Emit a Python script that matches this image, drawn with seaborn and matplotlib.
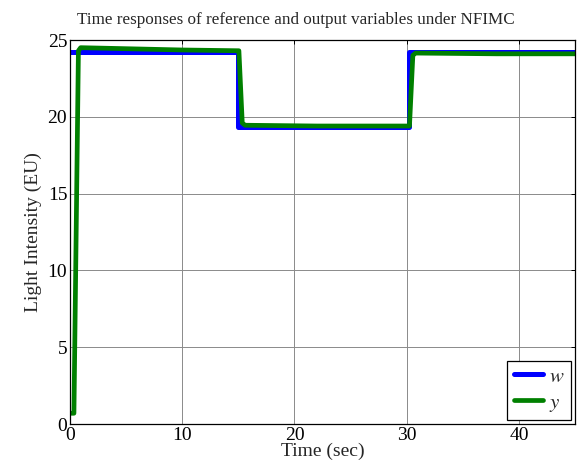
import numpy as np
import pandas as pd
import matplotlib
matplotlib.use("Agg")
import matplotlib.pyplot as plt
import seaborn as sns

# reference w (step setpoint)
w_time = [0.0, 15.0, 15.0, 30.2, 30.2, 45.0]
w_val = [24.2, 24.2, 19.35, 19.35, 24.2, 24.2]

# output y
y_time = [0.0, 0.35, 0.75, 0.95, 4.0, 10.0, 15.05, 15.35, 15.6, 22.0, 30.25, 30.55, 30.8, 38.0, 45.0]
y_val = [0.7, 0.7, 24.3, 24.5, 24.45, 24.35, 24.3, 19.6, 19.45, 19.4, 19.4, 24.0, 24.15, 24.1, 24.1]

x_ticks = [0, 10, 20, 30, 40]
y_ticks = [0, 5, 10, 15, 20, 25]

sns.set_theme(style="white")
plt.rcParams['font.family'] = ['Liberation Serif', 'DejaVu Serif']
plt.rcParams['mathtext.fontset'] = 'stix'

fig = plt.figure(figsize=(5.79, 4.73), dpi=100)
ax = fig.add_axes([70/579, 1-424/473, 505/579, 384/473])

sns.lineplot(x=w_time, y=w_val, ax=ax, color='#0000ff', lw=3.6,
             sort=False, estimator=None, label='$w$')
sns.lineplot(x=y_time, y=y_val, ax=ax, color='#008000', lw=3.4,
             sort=False, estimator=None, label='$y$')

ax.set_xlim(0, 45)
ax.set_ylim(0, 25)
ax.set_xticks(x_ticks)
ax.set_yticks(y_ticks)
ax.grid(True, color='#8a8a8a', lw=0.7)
ax.tick_params(direction='in', top=True, right=True, length=3, width=0.7,
               labelsize=14, colors='black', pad=2)
for s in ax.spines.values():
    s.set_color('black')
    s.set_linewidth(0.9)

ax.set_xlabel('Time (sec)', fontsize=14, labelpad=-1)
ax.set_ylabel('Light Intensity (EU)', fontsize=14, labelpad=4)

leg = ax.legend(loc='lower right', fontsize=15, handlelength=1.4,
                borderaxespad=0.2, fancybox=False, framealpha=1,
                edgecolor='black', borderpad=0.3, labelspacing=0.3,
                handletextpad=0.3)
leg.get_frame().set_linewidth(0.9)

fig.text(0.511, 0.958, 'Time responses of reference and output variables under NFIMC',
         ha='center', va='center', fontsize=12.3)

fig.savefig('out.png', dpi=100)
